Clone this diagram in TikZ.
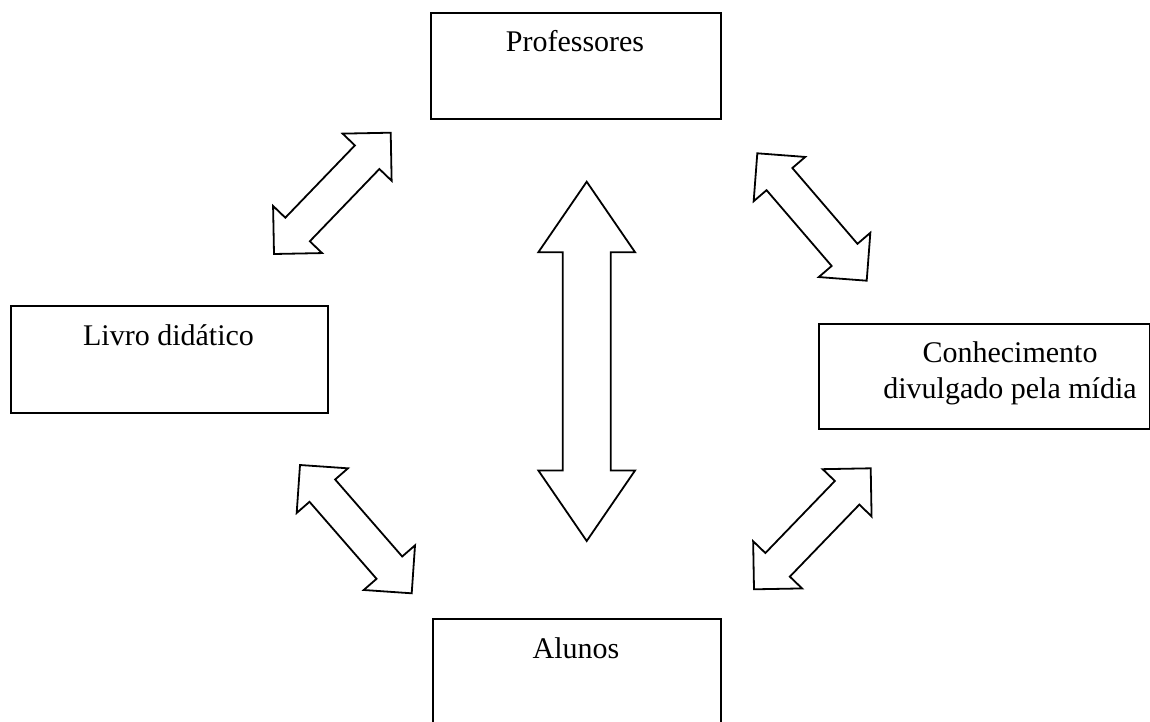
\documentclass[tikz,border=0pt]{standalone}
\usepackage{fontspec}
\setmainfont{Liberation Serif}
\usetikzlibrary{calc}
\newcommand{\dblblockarrow}[5]{% #1 tip A, #2 tip B, #3 head length, #4 head half-width, #5 shaft half-width
  \draw[blockarrow] (#1)
    -- ($(#1)!#3!(#2)!#4!90:(#2)$) -- ($(#1)!#3!(#2)!#5!90:(#2)$)
    -- ($(#2)!#3!(#1)!#5!-90:(#1)$) -- ($(#2)!#3!(#1)!#4!-90:(#1)$)
    -- (#2)
    -- ($(#2)!#3!(#1)!#4!90:(#1)$) -- ($(#2)!#3!(#1)!#5!90:(#1)$)
    -- ($(#1)!#3!(#2)!#5!-90:(#2)$) -- ($(#1)!#3!(#2)!#4!-90:(#2)$)
    -- cycle;}
\begin{document}
\begin{tikzpicture}[x=0.5pt,y=-0.5pt,
  box/.style={draw, line width=1pt, rectangle, inner sep=0pt, anchor=north west},
  lbl/.style={inner sep=0pt, font=\fontsize{15pt}{18pt}\selectfont},
  blockarrow/.style={draw, line width=0.9pt, fill=white, line join=miter}]
\useasboundingbox (0,0) rectangle (1150,722);
% boxes
\node[box, minimum width=145pt, minimum height=53pt] (prof) at (430,12) {};
\node[box, minimum width=158.5pt, minimum height=53.5pt] (livro) at (10,305) {};
\node[box, minimum width=165.5pt, minimum height=52.5pt] (conh) at (818,323) {};
\node[box, minimum width=144pt, minimum height=60pt] (alun) at (432,618) {};
% labels
\node[lbl, anchor=base] (profT) at (575,52) {Professores};
\node[lbl, anchor=base] (livroT) at (168.5,345) {Livro didático};
\node[lbl, anchor=base, align=center] (conhT) at (1010,398) {Conhecimento\\divulgado pela mídia};
\node[lbl, anchor=base] (alunT) at (576,658) {Alunos};
% arrow tips
\coordinate (tlA) at (390.7,132.7); \coordinate (tlB) at (274,254);
\coordinate (trA) at (757.3,153.3); \coordinate (trB) at (866.7,280.7);
\coordinate (blA) at (300,465);     \coordinate (blB) at (411.7,593.3);
\coordinate (brA) at (870.7,468.3); \coordinate (brB) at (754,589.3);
\coordinate (cA) at (586.7,181.7);  \coordinate (cB) at (586.7,541);
\dblblockarrow{tlA}{tlB}{17pt}{17pt}{8.5pt}
\dblblockarrow{trA}{trB}{17pt}{17pt}{8.5pt}
\dblblockarrow{blA}{blB}{17pt}{17pt}{8.5pt}
\dblblockarrow{brA}{brB}{17pt}{17pt}{8.5pt}
\dblblockarrow{cA}{cB}{35.3pt}{24.2pt}{12pt}
\end{tikzpicture}
\end{document}
